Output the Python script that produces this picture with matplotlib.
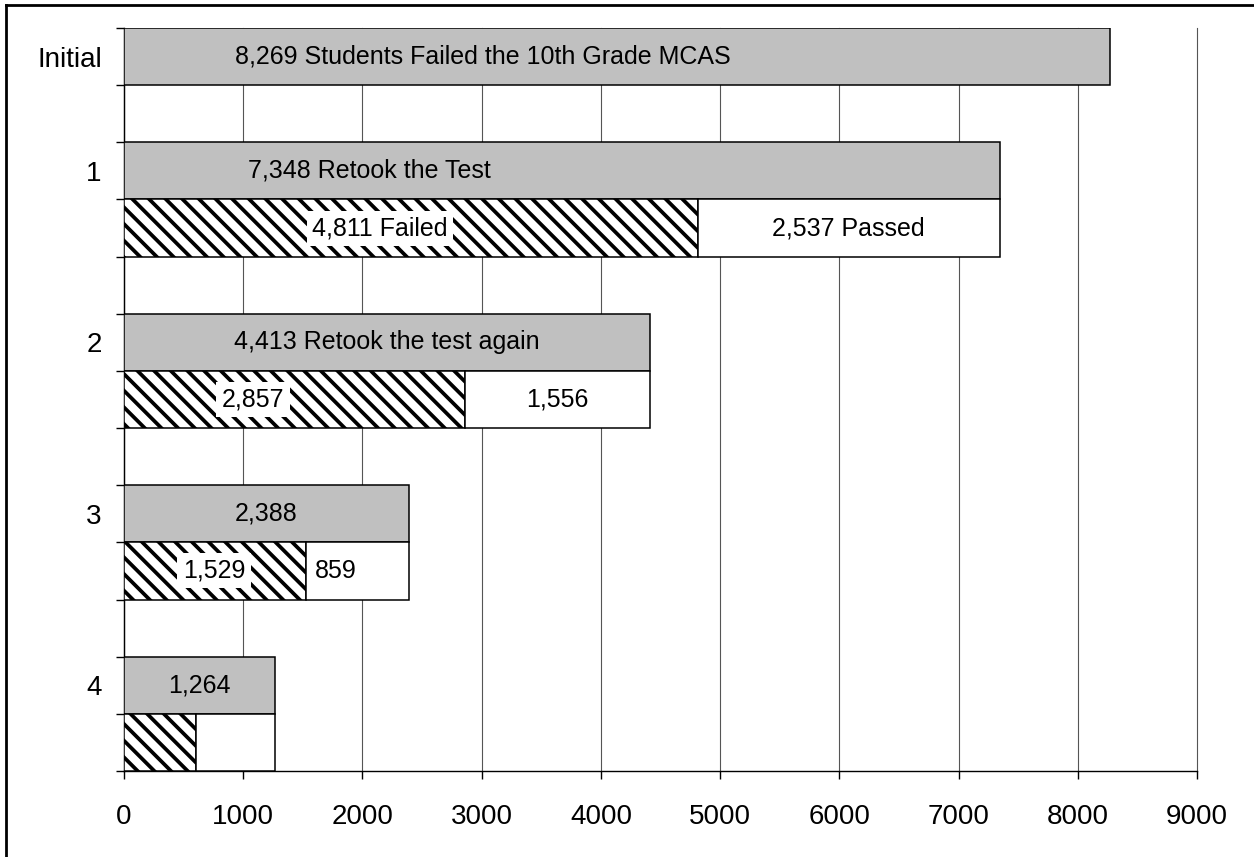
import matplotlib
matplotlib.use("Agg")
import matplotlib.pyplot as plt
from matplotlib.lines import Line2D

# ---- data ----
categories = ["Initial", "1", "2", "3", "4"]
took = [8269, 7348, 4413, 2388, 1264]
failed = [None, 4811, 2857, 1529, 604]
passed = [None, 2537, 1556, 859, 660]
took_labels = ["8,269 Students Failed the 10th Grade MCAS", "7,348 Retook the Test",
               "4,413 Retook the test again", "2,388", "1,264"]
failed_labels = [None, "4,811 Failed", "2,857", "1,529", None]
passed_labels = [None, "2,537 Passed", "1,556", "859", None]
xticks = [0, 1000, 2000, 3000, 4000, 5000, 6000, 7000, 8000, 9000]

# ---- label placement (positions only) ----
took_label_x = [3011, 2055, None, None, None]      # None -> centred
failed_label_x = [None, 2147, 1082, 755, None]
passed_label_x = [None, None, None, 1778, None]

plt.rcParams["font.family"] = ["Liberation Sans", "DejaVu Sans"]
plt.rcParams["hatch.linewidth"] = 2.7
plt.rcParams["hatch.color"] = "black"

W, H = 1254, 857
fig = plt.figure(figsize=(W / 100, H / 100), dpi=100)
ax = fig.add_axes([124 / W, 1 - 771 / H, (1197 - 124) / W, (771 - 28) / H])

GRAY = "#c0c0c0"
EW = 1.1
FS = 18

for i, cat in enumerate(categories):
    ygray = 0 if i == 0 else 3 * i - 1
    ax.barh(ygray, took[i], height=1, align="edge", color=GRAY,
            edgecolor="black", linewidth=EW, zorder=3)
    xl = took_label_x[i] if took_label_x[i] is not None else took[i] / 2
    ax.text(xl, ygray + 0.5, took_labels[i], ha="center", va="center",
            fontsize=FS, zorder=5)
    if failed[i] is not None:
        yh = ygray + 1
        ax.barh(yh, failed[i], height=1, align="edge", color="white",
                edgecolor="black", linewidth=EW, hatch="\\\\", zorder=3)
        ax.barh(yh, passed[i], left=failed[i], height=1, align="edge",
                color="white", edgecolor="black", linewidth=EW, zorder=3)
        if failed_labels[i]:
            fx = failed_label_x[i] if failed_label_x[i] is not None else failed[i] / 2
            ax.text(fx, yh + 0.5, failed_labels[i], ha="center", va="center",
                    fontsize=FS, zorder=6,
                    bbox=dict(facecolor="white", edgecolor="none", pad=4))
        if passed_labels[i]:
            px = passed_label_x[i] if passed_label_x[i] is not None else failed[i] + passed[i] / 2
            ax.text(px, yh + 0.5, passed_labels[i], ha="center", va="center",
                    fontsize=FS, zorder=6)

ax.set_xlim(0, 9000)
ax.set_ylim(13, 0)
ax.set_xticks(xticks)
ax.set_xticklabels([str(v) for v in xticks])
ax.set_yticks(range(0, 14))
ax.set_yticklabels([])
label_pos = [0.5] + [3 * i - 0.5 for i in range(1, len(categories))]
ax.set_yticks(label_pos, minor=True)
ax.set_yticklabels(categories, minor=True)
ax.tick_params(axis="y", which="minor", length=0, pad=16, labelsize=20)
ax.tick_params(axis="y", which="major", length=6, width=1, direction="out")
ax.tick_params(axis="x", length=6, width=1, direction="out", pad=18, labelsize=20)

ax.grid(axis="x", color="#555555", linewidth=0.8, zorder=0)
for gl in ax.get_xgridlines():
    gl.set_clip_on(False)
ax.set_axisbelow(True)
for s in ["top", "right"]:
    ax.spines[s].set_visible(False)
for s in ["left", "bottom"]:
    ax.spines[s].set_linewidth(1)
    ax.spines[s].set_color("black")

# figure frame (top and left edges visible)
fig.add_artist(Line2D([6 / W, 1], [1 - 5 / H, 1 - 5 / H], color="black", linewidth=2,
                      transform=fig.transFigure))
fig.add_artist(Line2D([6 / W, 6 / W], [0, 1 - 5 / H], color="black", linewidth=2,
                      transform=fig.transFigure))

fig.savefig("out.png", dpi=100)
